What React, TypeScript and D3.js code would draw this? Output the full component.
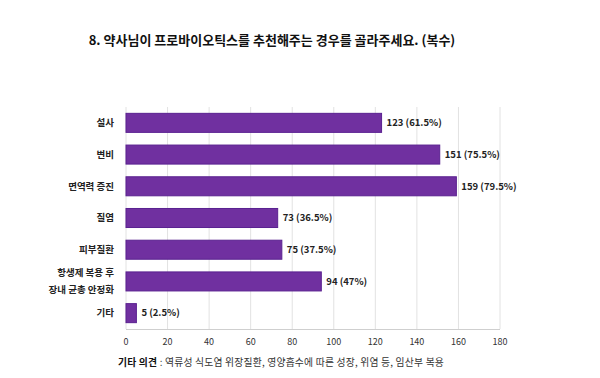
import React from "react";
import * as d3 from "d3";

const categories: string[][] = [
  ["설사"],
  ["변비"],
  ["면역력 증진"],
  ["질염"],
  ["피부질환"],
  ["항생제 복용 후", "장내 균총 안정화"],
  ["기타"],
];
const values = [123, 151, 159, 73, 75, 94, 5];
const percents = ["61.5%", "75.5%", "79.5%", "36.5%", "37.5%", "47%", "2.5%"];
const xTicks = [0, 20, 40, 60, 80, 100, 120, 140, 160, 180];
const title = "8. 약사님이 프로바이오틱스를 추천해주는 경우를 골라주세요. (복수)";
const noteLabel = "기타 의견";
const noteText = " : 역류성 식도염 위장질환, 영양흡수에 따른 성장, 위염 등, 임산부 복용";

const W = 600;
const H = 378;
const font = "'Noto Sans CJK KR', 'Noto Sans', sans-serif";

export default function App() {
  const x = d3.scaleLinear().domain([0, 180]).range([126, 500]);
  const ids = categories.map((_, i) => String(i));
  const y = d3.scaleBand().domain(ids).range([107, 329]).paddingInner(0.4).paddingOuter(0.2);
  return (
    <svg width={W} height={H} style={{ position: "absolute", left: 0, top: 0, background: "#fff" }} fontFamily={font}>
      <text x={272} y={45} textAnchor="middle" fontSize={13} fontWeight="bold" fill="#111">
        {title}
      </text>
      {xTicks.map((t) => (
        <line key={"g" + t} x1={x(t)} x2={x(t)} y1={107} y2={329} stroke="#e2e2e2" strokeWidth={1} />
      ))}
      <line x1={126} x2={500} y1={329.5} y2={329.5} stroke="#cfcfcf" strokeWidth={1} />
      {xTicks.map((t) => (
        <text key={"t" + t} x={x(t)} y={345} textAnchor="middle" fontSize={9} fill="#333">
          {t}
        </text>
      ))}
      {values.map((v, i) => {
        const yy = y(String(i))!;
        const bh = y.bandwidth();
        const cy = yy + bh / 2;
        const lines = categories[i];
        return (
          <g key={i}>
            <rect x={x(0)} y={yy} width={x(v) - x(0)} height={bh} fill="#7030A0" stroke="#5a2190" strokeWidth={1} />
            <text x={x(v) + 5} y={cy} dy="0.35em" fontSize={9.5} fontWeight="bold" fill="#222">
              {`${v} (${percents[i]})`}
            </text>
            {lines.map((l, j) => (
              <text
                key={j}
                x={114}
                y={cy + (j - (lines.length - 1) / 2) * 17}
                dy="0.35em"
                textAnchor="end"
                fontSize={9.5}
                fontWeight="bold"
                fill="#222"
              >
                {l}
              </text>
            ))}
          </g>
        );
      })}
      <text x={118} y={366} fontSize={9.8} fill="#333" letterSpacing={0.2}>
        <tspan fontWeight="bold" fill="#111">{noteLabel}</tspan>
        <tspan>{noteText}</tspan>
      </text>
    </svg>
  );
}
